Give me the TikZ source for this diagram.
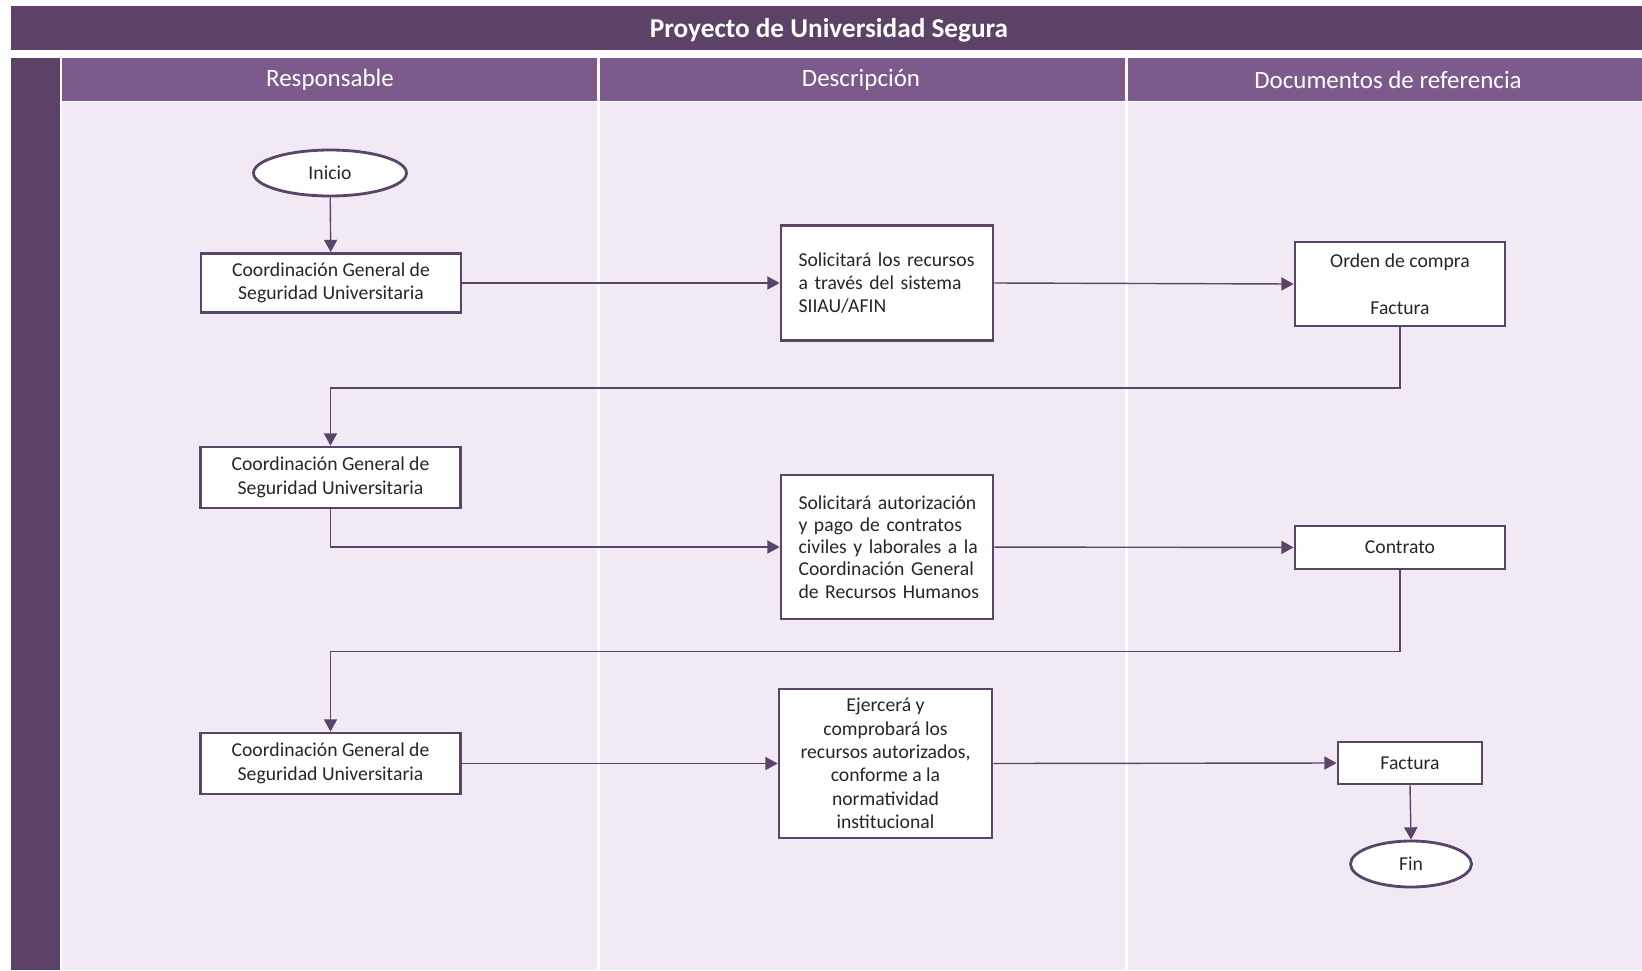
\documentclass[tikz,border=0pt]{standalone}
\usepackage{fontspec}
\setmainfont{Carlito}
\usetikzlibrary{arrows.meta,shapes.geometric}
\definecolor{titulo}{HTML}{5B4266}
\definecolor{encabezado}{HTML}{7C5B8C}
\definecolor{fondo}{HTML}{F1EAF4}
\definecolor{borde}{HTML}{5A4468}
\definecolor{texto}{HTML}{262626}
\newcommand{\jline}[1]{\makebox[3.54cm][s]{#1}}
\begin{document}
\begin{tikzpicture}[
    x=0.02cm, y=-0.02cm,
    >={Triangle[length=7pt,width=7.5pt]},
    box/.style={
        draw=borde,
        line width=1.6pt,
        fill=white,
        text=texto,
        font=\fontsize{11.2}{13.3}\selectfont,
        align=center,
        inner sep=0pt
    },
    desc/.style={box, text width=3.54cm, inner xsep=0.35cm, align=left},
    term/.style={box, ellipse, minimum height=0.92cm},
    head/.style={text=white, font=\fontsize{14.2}{16}\selectfont},
    arr/.style={->, line width=0.8pt, draw=borde}
]
    \useasboundingbox (0,0) rectangle (1642,970);
    \fill[white] (0,0) rectangle (1642,970);
    \fill[titulo] (10.5,6.3) rectangle (1642,50.3);
    \fill[titulo] (10.5,57.6) rectangle (59.7,970);
    \fill[encabezado] (61.8,57.6) rectangle (597,100.5);
    \fill[encabezado] (599.5,57.6) rectangle (1125,100.5);
    \fill[encabezado] (1127.5,57.6) rectangle (1642,100.5);
    \fill[fondo] (61.8,101.5) rectangle (597,970);
    \fill[fondo] (599.5,101.5) rectangle (1125,970);
    \fill[fondo] (1127.5,101.5) rectangle (1642,970);

    \node[text=white, font=\bfseries\fontsize{15.5}{18}\selectfont] (titulo) at (829,30.5)
        {Proyecto de Universidad Segura};
    \node[head] (hresp) at (330,80) {Responsable};
    \node[head] (hdesc) at (861,80) {Descripción};
    \node[head] (hdoc) at (1388,80) {Documentos de referencia};

    \node[term, minimum width=3.06cm] (inicio) at (330,173) {Inicio};

    \node[box, minimum width=5.2cm, minimum height=1.18cm] (resp1) at (331,283)
        {Coordinación General de\\Seguridad Universitaria};

    \node[desc, minimum height=2.3cm] (desc1) at (887,283)
        {\jline{Solicitará los recursos}\\\jline{a través del sistema}\\SIIAU/AFIN};

    \node[box, minimum width=4.2cm, minimum height=1.68cm] (doc1) at (1400,284)
        {Orden de compra\\ \mbox{}\\Factura};

    \node[box, minimum width=5.2cm, minimum height=1.22cm] (resp2) at (330.5,477.5)
        {Coordinación General de\\Seguridad Universitaria};

    \node[desc, minimum height=2.88cm, font=\fontsize{11.2}{12.6}\selectfont] (desc2) at (887,547)
        {\jline{Solicitará autorización}\\\jline{y pago de contratos}\\\jline{civiles y laborales a la}\\\jline{Coordinación General}\\\makebox[3.44cm][s]{de Recursos Humanos}};

    \node[box, minimum width=4.2cm, minimum height=0.86cm] (doc2) at (1400,547.5)
        {Contrato};

    \node[box, minimum width=5.2cm, minimum height=1.22cm] (resp3) at (330.5,763.5)
        {Coordinación General de\\Seguridad Universitaria};

    \node[box, minimum width=4.26cm, minimum height=2.98cm] (desc3) at (885.5,763.5)
        {Ejercerá y\\comprobará los\\recursos autorizados,\\conforme a la\\normatividad\\institucional};

    \node[box, minimum width=2.88cm, minimum height=0.84cm] (doc3) at (1410,763)
        {Factura};

    \node[term, minimum width=2.42cm] (fin) at (1411,864) {Fin};

    \draw[arr] (inicio) -- (resp1);
    \draw[arr] (resp1) -- (desc1);
    \draw[arr] (desc1.east) -- (doc1.west);
    \draw[arr] (doc1.south) -- ++(0,60.5) -| (resp2.north);
    \draw[arr] (resp2.south) |- (desc2.west);
    \draw[arr] (desc2) -- (doc2);
    \draw[arr] (doc2.south) -- ++(0,81) -| (resp3.north);
    \draw[arr] (resp3) -- (desc3);
    \draw[arr] (desc3.east) -- (doc3.west);
    \draw[arr] (doc3.south) -- (fin.north);
\end{tikzpicture}
\end{document}
